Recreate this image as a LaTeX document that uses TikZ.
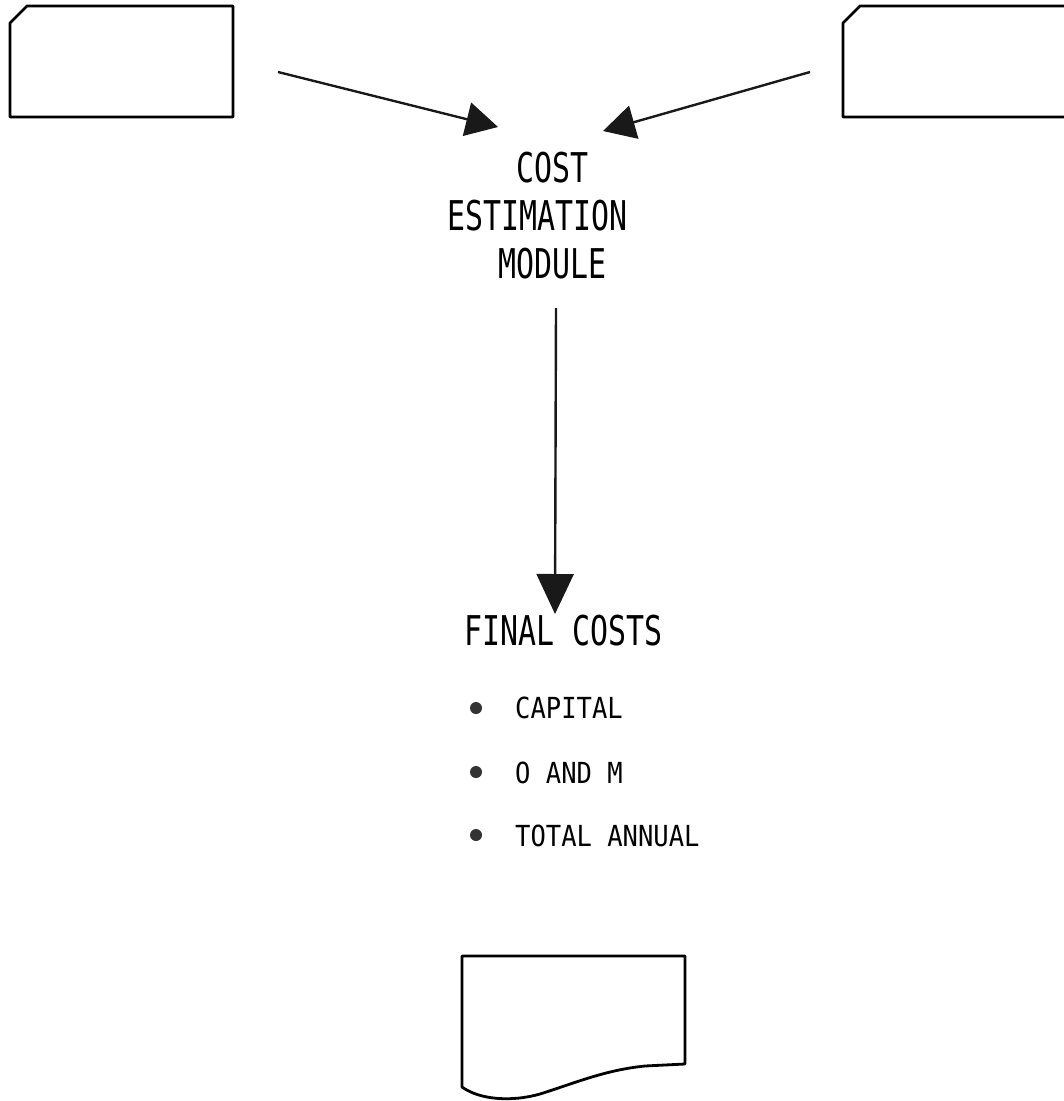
\documentclass[tikz,border=0pt]{standalone}
\usepackage{fontspec}
\usetikzlibrary{arrows.meta}
\newfontfamily\headfont[FakeStretch=0.73]{DejaVu Sans Mono}
\newfontfamily\itemfont[FakeStretch=0.88]{DejaVu Sans Mono}
\begin{document}
\begin{tikzpicture}[x=1pt,y=-1pt,
  outline/.style={line width=2.8pt,line join=round,line cap=round},
  conn/.style={line width=2.4pt,-{Triangle[length=32pt,width=34pt]},draw=black!90,fill=black!85},
  headtxt/.style={anchor=base west,inner sep=0pt,font=\headfont\fontsize{41}{41}\selectfont},
  itemtxt/.style={anchor=base west,inner sep=0pt,font=\itemfont\fontsize{29}{29}\selectfont},
  bulletdot/.style={circle,fill=black!80,inner sep=0pt,minimum size=12pt}]
\useasboundingbox (0,0) rectangle (1064,1101);
% input cards
\draw[outline] (27,6) -- (233,6) -- (233,117) -- (10,117) -- (10,23) -- cycle;
\draw[outline] (1064,6) -- (860,6) -- (843,23) -- (843,117) -- (1064,117);
% module text
\node[headtxt] (cost) at (516,182) {COST};
\node[headtxt] (estim) at (447,230) {ESTIMATION};
\node[headtxt] (module) at (498,278) {MODULE};
% arrows
\coordinate (lin) at (278,72);
\coordinate (ltip) at (498,127);
\coordinate (rin) at (810,72);
\coordinate (rtip) at (603,131);
\coordinate (dtop) at (556,308);
\coordinate (dtip) at (555,614);
\draw[conn] (lin) -- (ltip);
\draw[conn] (rin) -- (rtip);
\draw[conn,-{Triangle[length=40pt,width=37pt]}] (dtop) -- (dtip);
% final costs
\node[headtxt] (final) at (464,645) {FINAL COSTS};
\node[bulletdot] (b1) at (476,708) {};
\node[bulletdot] (b2) at (476,772) {};
\node[bulletdot] (b3) at (476,835) {};
\node[itemtxt] (capital) at (515,718) {CAPITAL};
\node[itemtxt] (oandm) at (515,783) {O AND M};
\node[itemtxt] (total) at (515,846) {TOTAL ANNUAL};
% output document
\draw[outline] (462,956) -- (685,956) -- (685,1064) -- (645,1066)
  .. controls (605,1070) and (575,1083) .. (540,1094)
  .. controls (512,1102) and (480,1100) .. (462,1087) -- cycle;
\end{tikzpicture}
\end{document}
